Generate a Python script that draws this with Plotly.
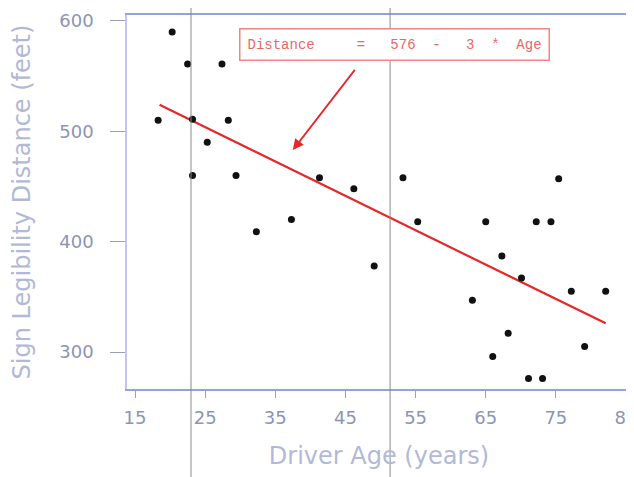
import plotly.graph_objects as go

# Data
age = [18.3, 20.3, 22.5, 23.2, 23.2, 25.3, 27.4, 28.3, 29.4, 32.3,
       37.3, 41.3, 46.2, 49.1, 53.2, 55.3, 63.1, 65.0, 66.0, 67.3,
       68.2, 70.1, 71.1, 72.2, 73.1, 74.3, 75.4, 77.2, 79.1, 82.1]
distance = [510, 590, 561, 511, 460, 490, 561, 510, 460, 409,
            420, 458, 448, 378, 458, 418, 347, 418, 296, 387,
            317, 367, 276, 418, 276, 418, 457, 355, 305, 355]

fit_age = [18.5, 82.1]
fit_distance = [524, 326]

x_ticks = [15, 25, 35, 45, 55, 65, 75, 85]
y_ticks = [300, 400, 500, 600]

equation_parts = ["Distance", "=", "576", "-", "3", "*", "Age"]
equation_gaps = [5, 3, 2, 3, 2, 2]

nb = "\u00a0"
equation = equation_parts[0]
for gap, part in zip(equation_gaps, equation_parts[1:]):
    equation += nb * gap + part

tick_col = "#8d94b4"
title_col = "#b2b9d6"

fig = go.Figure()
fig.add_trace(go.Scatter(x=fit_age, y=fit_distance, mode="lines",
                         line=dict(color="#e8262a", width=2.2),
                         showlegend=False, hoverinfo="skip"))
fig.add_trace(go.Scatter(x=age, y=distance, mode="markers",
                         marker=dict(color="#111111", size=7),
                         showlegend=False))

# scan artifacts: faint vertical lines
for xp in [0.127, 0.522]:
    fig.add_shape(type="line", xref="paper", yref="paper",
                  x0=xp, x1=xp, y0=-0.25, y1=1.05,
                  line=dict(color="#8a8a8a", width=1))

fig.add_annotation(x=29.8, y=579, xref="x", yref="y", xanchor="left",
                   text=equation, showarrow=False,
                   font=dict(family="Liberation Mono, DejaVu Sans Mono, monospace",
                             size=14, color="#ea6668"),
                   bordercolor="#f28486", borderwidth=1.5, borderpad=7,
                   bgcolor="white")
fig.add_annotation(x=37.5, y=483, ax=46.5, ay=557,
                   xref="x", yref="y", axref="x", ayref="y",
                   text="", showarrow=True, arrowhead=2, arrowsize=1.2,
                   arrowwidth=1.8, arrowcolor="#e8262a")

fig.update_layout(
    width=626, height=469,
    margin=dict(l=119, r=3, t=7, b=88),
    paper_bgcolor="white", plot_bgcolor="white",
    font=dict(family="DejaVu Sans, Liberation Sans, sans-serif"),
)
fig.update_xaxes(range=[13.86, 85.71], tickvals=x_ticks, ticks="outside",
                 ticklen=7, tickcolor="#9aa0b8", showgrid=False, zeroline=False,
                 showline=True, linecolor="#8ea4dc", linewidth=1.5, mirror=True,
                 automargin=False, ticklabelstandoff=5, ticklabeloverflow="allow",
                 tickfont=dict(size=18, color=tick_col),
                 title=dict(text="Driver Age (years)", font=dict(size=24, color=title_col),
                            standoff=20))
fig.update_yaxes(range=[266.5, 605.4], tickvals=y_ticks, ticks="outside",
                 ticklen=15, tickcolor="#9aa0b8", showgrid=False, zeroline=False,
                 showline=True, linecolor="#c0c4ee", linewidth=1.5, mirror=True,
                 automargin=False, ticklabelstandoff=13,
                 tickfont=dict(size=18, color=tick_col),
                 title=dict(text="Sign Legibility Distance (feet)",
                            font=dict(size=24, color=title_col), standoff=25))

fig.write_html("out.html")
